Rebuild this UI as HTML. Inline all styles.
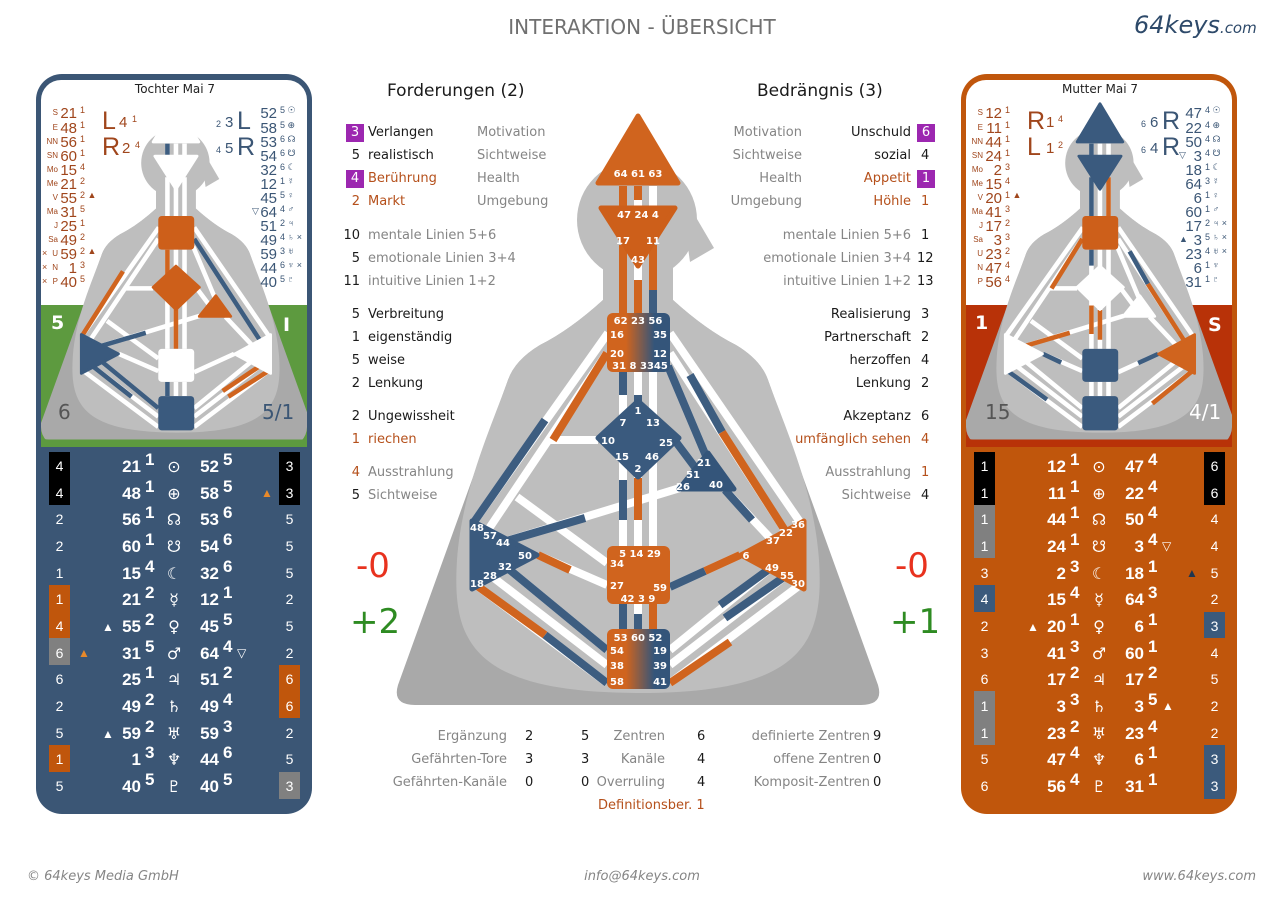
<!DOCTYPE html>
<html><head><meta charset="utf-8"><style>
body{margin:0;width:1284px;height:900px;background:#fff;position:relative;overflow:hidden;font-family:"DejaVu Sans","Liberation Sans",sans-serif}
.t{position:absolute;font-size:13px;line-height:18px;white-space:nowrap}
.g{color:#858585}.k{color:#1a1a1a}.o{color:#b5501b}
.n{position:absolute;width:20px;text-align:right;font-size:13px;line-height:18px}
.b{position:absolute;width:18px;height:18px;background:#9c27b0;color:#fff;text-align:center;font-size:13px;line-height:18px}
.r{position:absolute;text-align:right;font-size:13px;line-height:18px;white-space:nowrap}
svg text{font-family:"DejaVu Sans","Liberation Sans",sans-serif}
svg .ls text, svg text.ls{font-family:"Liberation Sans","DejaVu Sans",sans-serif}
.ml{font-size:10px;font-weight:bold;fill:#fff}
.tb text{fill:#fff;font-size:17px;font-family:"Liberation Sans","DejaVu Sans",sans-serif;font-weight:bold}
.tb .sym{font-family:"DejaVu Sans",sans-serif;font-weight:normal;font-size:16px}
.tb .sp{font-size:12px;font-weight:normal}
.tb .bd{font-size:14px;text-anchor:middle;font-weight:normal}
</style></head><body>
<svg width="1284" height="900" style="position:absolute;left:0;top:0">
<defs>
<linearGradient id="gob" x1="0" x2="1"><stop offset="0.3" stop-color="#d0641e"/><stop offset="0.75" stop-color="#34557a"/></linearGradient>
<g id="sil">
<path d="M603 300 Q570 330 540 345 Q515 360 508 380 L398 685 Q392 705 415 705 L861 705 Q884 705 878 685 L768 380 Q761 360 736 345 Q706 330 673 300 Z" fill="#a9a9a9"/>
<circle cx="637" cy="220" r="60" fill="#bebebe"/>
<polygon points="680,190 714,248 690,262" fill="#bebebe"/>
<path d="M603 255 L603 300 Q570 330 540 345 Q515 360 508 380 C490 430 462 490 457 560 C452 640 470 693 640 693 C806 693 824 640 819 560 C814 490 786 430 768 380 Q761 360 736 345 Q706 330 673 300 L673 255 Z" fill="#bebebe"/>
</g>
<g id="chn" stroke="#fff" stroke-width="8" fill="none">
<path d="M623 186V207M638 186V207M653 186V207M623 245V313M638 262V313M653 245V313M623 372V420M638 372V405M653 372V420M623 455V546M638 470V546M653 455V546M623 604V629M638 604V629M653 604V629"/>
<path d="M608 333L474 522M607 353L488 530M598 440H548M517 497L607 563M503 542L680 488M538 555L607 585M476 585L607 683M490 575L607 665M505 566L607 650M740 555L670 587M772 567L670 650M787 575L670 665M800 585L670 683M670 333L800 522M670 353L786 532M668 366L706 456M676 442L697 470M725 490L772 540"/>
</g>
<g id="ctr" stroke-width="5" stroke-linejoin="round">
<polygon points="638,116 678,183 598,183" style="fill:var(--hd);stroke:var(--hd)"/>
<polygon points="601,208 675,208 638,266" style="fill:var(--aj);stroke:var(--aj)"/>
<rect x="607" y="313" width="63" height="59" rx="6" style="fill:var(--th)"/>
<polygon points="638,401 679,438 638,477 598,438" style="fill:var(--gc);stroke:var(--gc)"/>
<polygon points="708,453 734,489 679,489" style="fill:var(--eg);stroke:var(--eg)"/>
<polygon points="472,521 537,555 472,589" style="fill:var(--sp);stroke:var(--sp)"/>
<polygon points="804,521 804,589 741,555" style="fill:var(--so);stroke:var(--so)"/>
<rect x="607" y="546" width="63" height="58" rx="6" style="fill:var(--sa)"/>
<rect x="607" y="629" width="63" height="60" rx="6" style="fill:var(--ro)"/>
</g>
<clipPath id="cl"><rect x="41" y="80" width="266" height="367" rx="20"/></clipPath>
<clipPath id="cr"><rect x="966" y="80" width="266" height="367" rx="20"/></clipPath>
</defs>

<!-- main graph -->
<use href="#sil"/>
<use href="#chn"/>
<g stroke-width="8" fill="none">
<path stroke="#d0641e" d="M623 186V207M638 186V200M623 245V313M638 280V313M653 245V290M638 478V520M653 604V629M607 353L553 440M538 555L570 570M476 585L545 635M740 555L705 571M670 683L730 642M722 432L786 532"/>
<path stroke="#3d5d80" d="M653 290V313M623 372V395M638 395V405M623 480V520M623 604V629M638 614V629M474 522L545 420M503 542L585 518M545 635L607 683M505 566L607 650M705 571L670 587M772 567L720 605M787 575L725 618M668 366L706 456M676 442L697 470M725 490L752 520M690 375L722 432"/>
</g>
<use href="#ctr" style="--hd:#d0641e;--aj:#cd5f1a;--th:url(#gob);--gc:#3a5a7e;--eg:#34557a;--sp:#3a5a7e;--so:#d0641e;--sa:#d0641e;--ro:url(#gob)"/>
<g class="ml">
<text x="638" y="177" text-anchor="middle">64 61 63</text>
<text x="638" y="218" text-anchor="middle">47 24  4</text>
<text x="623" y="244" text-anchor="middle">17</text><text x="653" y="244" text-anchor="middle">11</text>
<text x="638" y="263" text-anchor="middle">43</text>
<text x="638" y="324" text-anchor="middle">62 23 56</text>
<text x="610" y="338">16</text><text x="667" y="338" text-anchor="end">35</text>
<text x="610" y="357">20</text><text x="667" y="357" text-anchor="end">12</text>
<text x="640" y="369" text-anchor="middle">31  8 3345</text>
<text x="638" y="414" text-anchor="middle">1</text>
<text x="623" y="426" text-anchor="middle">7</text><text x="653" y="426" text-anchor="middle">13</text>
<text x="608" y="444" text-anchor="middle">10</text><text x="666" y="446" text-anchor="middle">25</text>
<text x="622" y="460" text-anchor="middle">15</text><text x="652" y="460" text-anchor="middle">46</text>
<text x="638" y="472" text-anchor="middle">2</text>
<text x="704" y="466" text-anchor="middle">21</text><text x="693" y="478" text-anchor="middle">51</text>
<text x="683" y="490" text-anchor="middle">26</text><text x="716" y="488" text-anchor="middle">40</text>
<text x="477" y="531" text-anchor="middle">48</text><text x="490" y="539" text-anchor="middle">57</text>
<text x="503" y="546" text-anchor="middle">44</text><text x="525" y="559" text-anchor="middle">50</text>
<text x="505" y="570" text-anchor="middle">32</text><text x="490" y="579" text-anchor="middle">28</text>
<text x="477" y="587" text-anchor="middle">18</text>
<text x="798" y="528" text-anchor="middle">36</text><text x="786" y="536" text-anchor="middle">22</text>
<text x="773" y="544" text-anchor="middle">37</text><text x="746" y="559" text-anchor="middle">6</text>
<text x="772" y="571" text-anchor="middle">49</text><text x="787" y="579" text-anchor="middle">55</text>
<text x="798" y="587" text-anchor="middle">30</text>
<text x="640" y="557" text-anchor="middle">5  14 29</text>
<text x="610" y="567">34</text>
<text x="610" y="589">27</text><text x="667" y="591" text-anchor="end">59</text>
<text x="638" y="602" text-anchor="middle">42  3  9</text>
<text x="638" y="641" text-anchor="middle">53 60 52</text>
<text x="610" y="654">54</text><text x="667" y="654" text-anchor="end">19</text>
<text x="610" y="669">38</text><text x="667" y="669" text-anchor="end">39</text>
<text x="610" y="685">58</text><text x="667" y="685" text-anchor="end">41</text>
</g>

<!-- left panel -->
<rect x="36" y="74" width="276" height="740" rx="26" fill="#3b5675"/>
<rect x="41" y="80" width="266" height="367" rx="20" fill="#fff"/>
<rect x="41" y="305" width="266" height="142" fill="#5d9a3f"/>
<g clip-path="url(#cl)"><g transform="translate(-187.7,37.6) scale(0.57)">
<use href="#sil"/><use href="#chn"/>
<g stroke-width="8" fill="none"><path stroke="#d0641e" d="M653 350V313M638 470V546M623 420V372M474 522L545 410M800 585L730 630M787 575L720 620"/><path stroke="#3d5d80" d="M623 186V207M670 353L786 532M505 566L607 650M623 604V629M503 542L585 518M490 575L560 630"/></g>
<use href="#ctr" style="--hd:#fff;--aj:#fff;--th:#cd5f1a;--gc:#cd5f1a;--eg:#cd5f1a;--sp:#3a5a7e;--so:#fff;--sa:#fff;--ro:#3a5a7e"/>
</g></g>

<!-- right panel -->
<rect x="961" y="74" width="276" height="740" rx="26" fill="#c0560c"/>
<rect x="966" y="80" width="266" height="367" rx="20" fill="#fff"/>
<rect x="966" y="305" width="266" height="142" fill="#b83208"/>
<g clip-path="url(#cr)"><g transform="translate(736.3,37.6) scale(0.57)">
<use href="#sil"/><use href="#chn"/>
<g stroke-width="8" fill="none"><path stroke="#d0641e" d="M653 245V313M638 478V530M623 470V520M607 353L553 440M503 542L585 518M800 585L730 642M722 432L786 532"/><path stroke="#3d5d80" d="M623 186V207M623 245V313M623 372V400M538 555L570 570M476 585L545 635M740 555L705 571M690 375L722 432"/></g>
<use href="#ctr" style="--hd:#3a5a7e;--aj:#3a5a7e;--th:#cd5f1a;--gc:#fff;--eg:#fff;--sp:#fff;--so:#d0641e;--sa:#3a5a7e;--ro:#3a5a7e"/>
</g></g>

<!-- panel headers & labels -->
<text x="175" y="93" text-anchor="middle" font-size="12" fill="#222">Tochter Mai 7</text>
<text x="1100" y="93" text-anchor="middle" font-size="12" fill="#222">Mutter Mai 7</text>
<g font-weight="bold" font-size="19">
<text x="51" y="329" fill="#fff">5</text><text x="283" y="331" fill="#fff">I</text>
<text x="975" y="329" fill="#fff">1</text><text x="1208" y="331" fill="#fff">S</text>
</g>
<g font-size="20">
<text x="58" y="419" fill="#555">6</text><text x="262" y="419" fill="#3b5675">5/1</text>
<text x="985" y="419" fill="#555">15</text><text x="1189" y="419" fill="#fff">4/1</text>
</g>

<!-- planet lists left panel -->
<g fill="#a0461c" class="ls">
<g font-size="8" text-anchor="end"><text x="58" y="115">S</text><text x="58" y="130">E</text><text x="58" y="144">NN</text><text x="58" y="158">SN</text><text x="58" y="172">Mo</text><text x="58" y="186">Me</text><text x="58" y="200">V</text><text x="58" y="214">Ma</text><text x="58" y="228">J</text><text x="58" y="242">Sa</text><text x="58" y="256">U</text><text x="58" y="270">N</text><text x="58" y="284">P</text></g>
<g font-size="15" text-anchor="end"><text x="77" y="118">21</text><text x="77" y="133">48</text><text x="77" y="147">56</text><text x="77" y="161">60</text><text x="77" y="175">15</text><text x="77" y="189">21</text><text x="77" y="203">55</text><text x="77" y="217">31</text><text x="77" y="231">25</text><text x="77" y="245">49</text><text x="77" y="259">59</text><text x="77" y="273">1</text><text x="77" y="287">40</text></g>
<g font-size="9"><text x="80" y="113">1</text><text x="80" y="128">1</text><text x="80" y="142">1</text><text x="80" y="156">1</text><text x="80" y="170">4</text><text x="80" y="184">2</text><text x="80" y="198">2 ▲</text><text x="80" y="212">5</text><text x="80" y="226">1</text><text x="80" y="240">2</text><text x="80" y="254">2 ▲</text><text x="80" y="268">3</text><text x="80" y="282">5</text>
<text x="42" y="256">×</text><text x="42" y="270">×</text><text x="42" y="284">×</text></g>
<text x="102" y="129" font-size="25">L</text><text x="119" y="127" font-size="15">4</text><text x="132" y="122" font-size="9">1</text>
<text x="102" y="155" font-size="25">R</text><text x="122" y="153" font-size="15">2</text><text x="135" y="148" font-size="9">4</text>
</g>
<g fill="#3b5675" class="ls">
<g font-size="15" text-anchor="end"><text x="277" y="118">52</text><text x="277" y="133">58</text><text x="277" y="147">53</text><text x="277" y="161">54</text><text x="277" y="175">32</text><text x="277" y="189">12</text><text x="277" y="203">45</text><text x="277" y="217">64</text><text x="277" y="231">51</text><text x="277" y="245">49</text><text x="277" y="259">59</text><text x="277" y="273">44</text><text x="277" y="287">40</text></g>
<g font-size="9"><text x="280" y="113">5 ☉</text><text x="280" y="128">5 ⊕</text><text x="280" y="142">6 ☊</text><text x="280" y="156">6 ☋</text><text x="280" y="170">6 ☾</text><text x="280" y="184">1 ☿</text><text x="280" y="198">5 ♀</text><text x="280" y="212">4 ♂</text><text x="280" y="226">2 ♃</text><text x="280" y="240">4 ♄ ×</text><text x="280" y="254">3 ♅</text><text x="280" y="268">6 ♆ ×</text><text x="280" y="282">5 ♇</text><text x="252" y="214">▽</text></g>
<text x="216" y="127" font-size="9">2</text><text x="225" y="127" font-size="15">3</text><text x="237" y="129" font-size="25">L</text>
<text x="216" y="153" font-size="9">4</text><text x="225" y="153" font-size="15">5</text><text x="237" y="155" font-size="25">R</text>
</g>

<!-- planet lists right panel -->
<g fill="#a0461c" class="ls" transform="translate(925,0)">
<g font-size="8" text-anchor="end"><text x="58" y="115">S</text><text x="58" y="130">E</text><text x="58" y="144">NN</text><text x="58" y="158">SN</text><text x="58" y="172">Mo</text><text x="58" y="186">Me</text><text x="58" y="200">V</text><text x="58" y="214">Ma</text><text x="58" y="228">J</text><text x="58" y="242">Sa</text><text x="58" y="256">U</text><text x="58" y="270">N</text><text x="58" y="284">P</text></g>
<g font-size="15" text-anchor="end"><text x="77" y="118">12</text><text x="77" y="133">11</text><text x="77" y="147">44</text><text x="77" y="161">24</text><text x="77" y="175">2</text><text x="77" y="189">15</text><text x="77" y="203">20</text><text x="77" y="217">41</text><text x="77" y="231">17</text><text x="77" y="245">3</text><text x="77" y="259">23</text><text x="77" y="273">47</text><text x="77" y="287">56</text></g>
<g font-size="9"><text x="80" y="113">1</text><text x="80" y="128">1</text><text x="80" y="142">1</text><text x="80" y="156">1</text><text x="80" y="170">3</text><text x="80" y="184">4</text><text x="80" y="198">1 ▲</text><text x="80" y="212">3</text><text x="80" y="226">2</text><text x="80" y="240">3</text><text x="80" y="254">2</text><text x="80" y="268">4</text><text x="80" y="282">4</text></g>
<text x="102" y="129" font-size="25">R</text><text x="121" y="127" font-size="15">1</text><text x="133" y="122" font-size="9">4</text>
<text x="102" y="155" font-size="25">L</text><text x="121" y="153" font-size="15">1</text><text x="133" y="148" font-size="9">2</text>
</g>
<g fill="#3b5675" class="ls" transform="translate(925,0)">
<g font-size="15" text-anchor="end"><text x="277" y="118">47</text><text x="277" y="133">22</text><text x="277" y="147">50</text><text x="277" y="161">3</text><text x="277" y="175">18</text><text x="277" y="189">64</text><text x="277" y="203">6</text><text x="277" y="217">60</text><text x="277" y="231">17</text><text x="277" y="245">3</text><text x="277" y="259">23</text><text x="277" y="273">6</text><text x="277" y="287">31</text></g>
<g font-size="9"><text x="280" y="113">4 ☉</text><text x="280" y="128">4 ⊕</text><text x="280" y="142">4 ☊</text><text x="280" y="156">4 ☋</text><text x="280" y="170">1 ☾</text><text x="280" y="184">3 ☿</text><text x="280" y="198">1 ♀</text><text x="280" y="212">1 ♂</text><text x="280" y="226">2 ♃ ×</text><text x="280" y="240">5 ♄ ×</text><text x="280" y="254">4 ♅ ×</text><text x="280" y="268">1 ♆</text><text x="280" y="282">1 ♇</text><text x="254" y="158">▽</text><text x="254" y="242">▲</text></g>
<text x="216" y="127" font-size="9">6</text><text x="225" y="127" font-size="15">6</text><text x="237" y="129" font-size="25">R</text>
<text x="216" y="153" font-size="9">6</text><text x="225" y="153" font-size="15">4</text><text x="237" y="155" font-size="25">R</text>
</g>

<!-- left table -->
<g class="tb">
<rect x="49" y="452" width="21" height="53" fill="#000"/><rect x="49" y="585" width="21" height="53" fill="#c0560c"/><rect x="49" y="638" width="21" height="27" fill="#808080"/><rect x="49" y="745" width="21" height="27" fill="#c0560c"/>
<rect x="279" y="452" width="21" height="53" fill="#000"/><rect x="279" y="665" width="21" height="53" fill="#c0560c"/><rect x="279" y="772" width="21" height="27" fill="#808080"/>
<text class="bd" x="59.5" y="471">4</text><text class="bd" x="59.5" y="498">4</text><text class="bd" x="59.5" y="524">2</text><text class="bd" x="59.5" y="551">2</text><text class="bd" x="59.5" y="578">1</text><text class="bd" x="59.5" y="604">1</text><text class="bd" x="59.5" y="631">4</text><text class="bd" x="59.5" y="658">6</text><text class="bd" x="59.5" y="684">6</text><text class="bd" x="59.5" y="711">2</text><text class="bd" x="59.5" y="738">5</text><text class="bd" x="59.5" y="764">1</text><text class="bd" x="59.5" y="791">5</text>
<text class="bd" x="289.5" y="471">3</text><text class="bd" x="289.5" y="498">3</text><text class="bd" x="289.5" y="524">5</text><text class="bd" x="289.5" y="551">5</text><text class="bd" x="289.5" y="578">5</text><text class="bd" x="289.5" y="604">2</text><text class="bd" x="289.5" y="631">5</text><text class="bd" x="289.5" y="658">2</text><text class="bd" x="289.5" y="684">6</text><text class="bd" x="289.5" y="711">6</text><text class="bd" x="289.5" y="738">2</text><text class="bd" x="289.5" y="764">5</text><text class="bd" x="289.5" y="791">3</text>
<g text-anchor="end"><text x="141" y="472">21</text><text x="141" y="499">48</text><text x="141" y="525">56</text><text x="141" y="552">60</text><text x="141" y="579">15</text><text x="141" y="605">21</text><text x="141" y="632">55</text><text x="141" y="659">31</text><text x="141" y="685">25</text><text x="141" y="712">49</text><text x="141" y="739">59</text><text x="141" y="765">1</text><text x="141" y="792">40</text>
<text x="219" y="472">52</text><text x="219" y="499">58</text><text x="219" y="525">53</text><text x="219" y="552">54</text><text x="219" y="579">32</text><text x="219" y="605">12</text><text x="219" y="632">45</text><text x="219" y="659">64</text><text x="219" y="685">51</text><text x="219" y="712">49</text><text x="219" y="739">59</text><text x="219" y="765">44</text><text x="219" y="792">40</text></g>
<g class="sp"><text x="145" y="465">1</text><text x="145" y="492">1</text><text x="145" y="518">1</text><text x="145" y="545">1</text><text x="145" y="572">4</text><text x="145" y="598">2</text><text x="145" y="625">2</text><text x="145" y="652">5</text><text x="145" y="678">1</text><text x="145" y="705">2</text><text x="145" y="732">2</text><text x="145" y="758">3</text><text x="145" y="785">5</text>
<text x="223" y="465">5</text><text x="223" y="492">5</text><text x="223" y="518">6</text><text x="223" y="545">6</text><text x="223" y="572">6</text><text x="223" y="598">1</text><text x="223" y="625">5</text><text x="223" y="652">4</text><text x="223" y="678">2</text><text x="223" y="705">4</text><text x="223" y="732">3</text><text x="223" y="758">6</text><text x="223" y="785">5</text></g>
<g text-anchor="middle"><text class="sym" x="174" y="472">⊙</text><text class="sym" x="174" y="499">⊕</text><text class="sym" x="174" y="525">☊</text><text class="sym" x="174" y="552">☋</text><text class="sym" x="174" y="579">☾</text><text class="sym" x="174" y="605">☿</text><text class="sym" x="174" y="632">♀</text><text class="sym" x="174" y="659">♂</text><text class="sym" x="174" y="685">♃</text><text class="sym" x="174" y="712">♄</text><text class="sym" x="174" y="739">♅</text><text class="sym" x="174" y="765">♆</text><text class="sym" x="174" y="792">♇</text></g>
<text class="sp" x="102" y="631">▲</text><text class="sp" x="102" y="738">▲</text><text class="sp" x="237" y="657">▽</text>
<text class="sp" x="78" y="657" style="fill:#e8892a">▲</text><text class="sp" x="261" y="497" style="fill:#e8892a">▲</text>
</g>

<!-- right table -->
<g class="tb" transform="translate(925,0)">
<rect x="49" y="452" width="21" height="53" fill="#000"/><rect x="49" y="505" width="21" height="53" fill="#808080"/><rect x="49" y="585" width="21" height="27" fill="#3b5a7c"/><rect x="49" y="691" width="21" height="54" fill="#808080"/>
<rect x="279" y="452" width="21" height="53" fill="#000"/><rect x="279" y="612" width="21" height="26" fill="#3b5a7c"/><rect x="279" y="745" width="21" height="54" fill="#3b5a7c"/>
<text class="bd" x="59.5" y="471">1</text><text class="bd" x="59.5" y="498">1</text><text class="bd" x="59.5" y="524">1</text><text class="bd" x="59.5" y="551">1</text><text class="bd" x="59.5" y="578">3</text><text class="bd" x="59.5" y="604">4</text><text class="bd" x="59.5" y="631">2</text><text class="bd" x="59.5" y="658">3</text><text class="bd" x="59.5" y="684">6</text><text class="bd" x="59.5" y="711">1</text><text class="bd" x="59.5" y="738">1</text><text class="bd" x="59.5" y="764">5</text><text class="bd" x="59.5" y="791">6</text>
<text class="bd" x="289.5" y="471">6</text><text class="bd" x="289.5" y="498">6</text><text class="bd" x="289.5" y="524">4</text><text class="bd" x="289.5" y="551">4</text><text class="bd" x="289.5" y="578">5</text><text class="bd" x="289.5" y="604">2</text><text class="bd" x="289.5" y="631">3</text><text class="bd" x="289.5" y="658">4</text><text class="bd" x="289.5" y="684">5</text><text class="bd" x="289.5" y="711">2</text><text class="bd" x="289.5" y="738">2</text><text class="bd" x="289.5" y="764">3</text><text class="bd" x="289.5" y="791">3</text>
<g text-anchor="end"><text x="141" y="472">12</text><text x="141" y="499">11</text><text x="141" y="525">44</text><text x="141" y="552">24</text><text x="141" y="579">2</text><text x="141" y="605">15</text><text x="141" y="632">20</text><text x="141" y="659">41</text><text x="141" y="685">17</text><text x="141" y="712">3</text><text x="141" y="739">23</text><text x="141" y="765">47</text><text x="141" y="792">56</text>
<text x="219" y="472">47</text><text x="219" y="499">22</text><text x="219" y="525">50</text><text x="219" y="552">3</text><text x="219" y="579">18</text><text x="219" y="605">64</text><text x="219" y="632">6</text><text x="219" y="659">60</text><text x="219" y="685">17</text><text x="219" y="712">3</text><text x="219" y="739">23</text><text x="219" y="765">6</text><text x="219" y="792">31</text></g>
<g class="sp"><text x="145" y="465">1</text><text x="145" y="492">1</text><text x="145" y="518">1</text><text x="145" y="545">1</text><text x="145" y="572">3</text><text x="145" y="598">4</text><text x="145" y="625">1</text><text x="145" y="652">3</text><text x="145" y="678">2</text><text x="145" y="705">3</text><text x="145" y="732">2</text><text x="145" y="758">4</text><text x="145" y="785">4</text>
<text x="223" y="465">4</text><text x="223" y="492">4</text><text x="223" y="518">4</text><text x="223" y="545">4</text><text x="223" y="572">1</text><text x="223" y="598">3</text><text x="223" y="625">1</text><text x="223" y="652">1</text><text x="223" y="678">2</text><text x="223" y="705">5</text><text x="223" y="732">4</text><text x="223" y="758">1</text><text x="223" y="785">1</text></g>
<g text-anchor="middle"><text class="sym" x="174" y="472">⊙</text><text class="sym" x="174" y="499">⊕</text><text class="sym" x="174" y="525">☊</text><text class="sym" x="174" y="552">☋</text><text class="sym" x="174" y="579">☾</text><text class="sym" x="174" y="605">☿</text><text class="sym" x="174" y="632">♀</text><text class="sym" x="174" y="659">♂</text><text class="sym" x="174" y="685">♃</text><text class="sym" x="174" y="712">♄</text><text class="sym" x="174" y="739">♅</text><text class="sym" x="174" y="765">♆</text><text class="sym" x="174" y="792">♇</text></g>
<text class="sp" x="102" y="631">▲</text><text class="sp" x="237" y="550">▽</text><text class="sp" x="237" y="710">▲</text>
<text class="sp" x="261" y="577" style="fill:#1e3550">▲</text>
</g>
</svg>

<!-- title -->
<div class="t" style="left:0;width:1284px;text-align:center;top:14px;font-size:20px;line-height:26px;color:#707070">INTERAKTION - ÜBERSICHT</div>
<div class="t" style="left:1134px;top:10px;font-size:24px;line-height:30px;color:#2e4a6a;font-style:italic">64keys<span style="font-size:15px">.com</span></div>

<!-- left text column -->
<div class="t k" style="left:387px;top:80px;font-size:17px;line-height:22px">Forderungen (2)</div>
<div class="b" style="left:346px;top:124px">3</div><div class="t k" style="left:368px;top:124px">Verlangen</div><div class="t g" style="left:477px;top:124px">Motivation</div>
<div class="n k" style="left:340px;top:147px">5</div><div class="t k" style="left:368px;top:147px">realistisch</div><div class="t g" style="left:477px;top:147px">Sichtweise</div>
<div class="b" style="left:346px;top:170px">4</div><div class="t o" style="left:368px;top:170px">Berührung</div><div class="t g" style="left:477px;top:170px">Health</div>
<div class="n o" style="left:340px;top:193px">2</div><div class="t o" style="left:368px;top:193px">Markt</div><div class="t g" style="left:477px;top:193px">Umgebung</div>
<div class="n k" style="left:340px;top:227px">10</div><div class="t g" style="left:368px;top:227px">mentale Linien 5+6</div>
<div class="n k" style="left:340px;top:250px">5</div><div class="t g" style="left:368px;top:250px">emotionale Linien 3+4</div>
<div class="n k" style="left:340px;top:273px">11</div><div class="t g" style="left:368px;top:273px">intuitive Linien 1+2</div>
<div class="n k" style="left:340px;top:306px">5</div><div class="t k" style="left:368px;top:306px">Verbreitung</div>
<div class="n k" style="left:340px;top:329px">1</div><div class="t k" style="left:368px;top:329px">eigenständig</div>
<div class="n k" style="left:340px;top:352px">5</div><div class="t k" style="left:368px;top:352px">weise</div>
<div class="n k" style="left:340px;top:375px">2</div><div class="t k" style="left:368px;top:375px">Lenkung</div>
<div class="n k" style="left:340px;top:408px">2</div><div class="t k" style="left:368px;top:408px">Ungewissheit</div>
<div class="n o" style="left:340px;top:431px">1</div><div class="t o" style="left:368px;top:431px">riechen</div>
<div class="n o" style="left:340px;top:464px">4</div><div class="t g" style="left:368px;top:464px">Ausstrahlung</div>
<div class="n k" style="left:340px;top:487px">5</div><div class="t g" style="left:368px;top:487px">Sichtweise</div>

<!-- right text column -->
<div class="t k" style="left:757px;top:80px;font-size:17px;line-height:22px">Bedrängnis (3)</div>
<div class="r g" style="right:482px;top:124px">Motivation</div><div class="r k" style="right:373px;top:124px">Unschuld</div><div class="b" style="left:917px;top:124px">6</div>
<div class="r g" style="right:482px;top:147px">Sichtweise</div><div class="r k" style="right:373px;top:147px">sozial</div><div class="t k" style="left:921px;top:147px">4</div>
<div class="r g" style="right:482px;top:170px">Health</div><div class="r o" style="right:373px;top:170px">Appetit</div><div class="b" style="left:917px;top:170px">1</div>
<div class="r g" style="right:482px;top:193px">Umgebung</div><div class="r o" style="right:373px;top:193px">Höhle</div><div class="t o" style="left:921px;top:193px">1</div>
<div class="r g" style="right:373px;top:227px">mentale Linien 5+6</div><div class="t k" style="left:921px;top:227px">1</div>
<div class="r g" style="right:373px;top:250px">emotionale Linien 3+4</div><div class="t k" style="left:917px;top:250px">12</div>
<div class="r g" style="right:373px;top:273px">intuitive Linien 1+2</div><div class="t k" style="left:917px;top:273px">13</div>
<div class="r k" style="right:373px;top:306px">Realisierung</div><div class="t k" style="left:921px;top:306px">3</div>
<div class="r k" style="right:373px;top:329px">Partnerschaft</div><div class="t k" style="left:921px;top:329px">2</div>
<div class="r k" style="right:373px;top:352px">herzoffen</div><div class="t k" style="left:921px;top:352px">4</div>
<div class="r k" style="right:373px;top:375px">Lenkung</div><div class="t k" style="left:921px;top:375px">2</div>
<div class="r k" style="right:373px;top:408px">Akzeptanz</div><div class="t k" style="left:921px;top:408px">6</div>
<div class="r o" style="right:373px;top:431px">umfänglich sehen</div><div class="t o" style="left:921px;top:431px">4</div>
<div class="r g" style="right:373px;top:464px">Ausstrahlung</div><div class="t o" style="left:921px;top:464px">1</div>
<div class="r g" style="right:373px;top:487px">Sichtweise</div><div class="t k" style="left:921px;top:487px">4</div>

<!-- big numbers -->
<div class="t" style="left:356px;top:546px;font-size:34px;line-height:40px;color:#e8321e">-0</div>
<div class="t" style="left:350px;top:602px;font-size:34px;line-height:40px;color:#2e8b22">+2</div>
<div class="t" style="left:895px;top:546px;font-size:34px;line-height:40px;color:#e8321e">-0</div>
<div class="t" style="left:890px;top:602px;font-size:34px;line-height:40px;color:#2e8b22">+1</div>

<!-- bottom stats -->
<div class="r g" style="right:777px;top:728px">Ergänzung</div><div class="t k" style="left:525px;top:728px">2</div><div class="t k" style="left:581px;top:728px">5</div><div class="r g" style="right:619px;top:728px">Zentren</div><div class="t k" style="left:697px;top:728px">6</div><div class="r g" style="right:414px;top:728px">definierte Zentren</div><div class="t k" style="left:873px;top:728px">9</div>
<div class="r g" style="right:777px;top:751px">Gefährten-Tore</div><div class="t k" style="left:525px;top:751px">3</div><div class="t k" style="left:581px;top:751px">3</div><div class="r g" style="right:619px;top:751px">Kanäle</div><div class="t k" style="left:697px;top:751px">4</div><div class="r g" style="right:414px;top:751px">offene Zentren</div><div class="t k" style="left:873px;top:751px">0</div>
<div class="r g" style="right:777px;top:774px">Gefährten-Kanäle</div><div class="t k" style="left:525px;top:774px">0</div><div class="t k" style="left:581px;top:774px">0</div><div class="r g" style="right:619px;top:774px">Overruling</div><div class="t k" style="left:697px;top:774px">4</div><div class="r g" style="right:414px;top:774px">Komposit-Zentren</div><div class="t k" style="left:873px;top:774px">0</div>
<div class="t o" style="left:598px;top:797px">Definitionsber. 1</div>

<!-- footer -->
<div class="t g" style="left:27px;top:868px;font-style:italic">© 64keys Media GmbH</div>
<div class="t g" style="left:0;width:1284px;text-align:center;top:868px;font-style:italic">info@64keys.com</div>
<div class="r g" style="right:28px;top:868px;font-style:italic">www.64keys.com</div>
</body></html>
